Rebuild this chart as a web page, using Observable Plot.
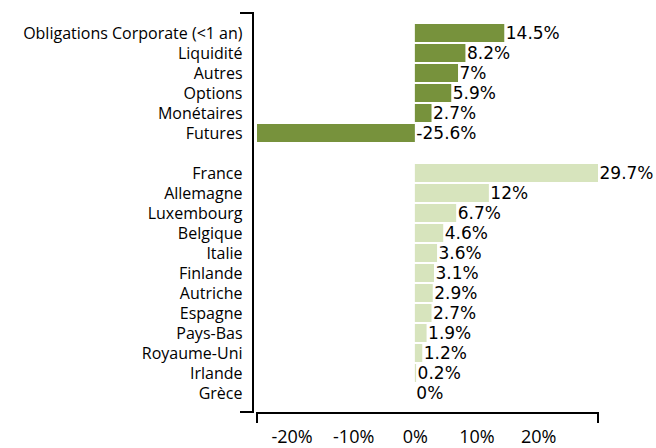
<!DOCTYPE html>
<html>
<head>
<meta charset="utf-8">
<script src="https://cdn.jsdelivr.net/npm/d3@7"></script>
<script src="https://cdn.jsdelivr.net/npm/@observablehq/plot@0.6"></script>
<style>
  html, body { margin: 0; padding: 0; background: #fff; }
  #chart { width: 656px; height: 448px; }
</style>
</head>
<body>
<div id="chart"></div>
<script>
const typeCategories = ["Obligations Corporate (<1 an)", "Liquidité", "Autres", "Options", "Monétaires", "Futures"];
const typeValues = [14.5, 8.2, 7, 5.9, 2.7, -25.6];
const countryCategories = ["France", "Allemagne", "Luxembourg", "Belgique", "Italie", "Finlande", "Autriche", "Espagne", "Pays-Bas", "Royaume-Uni", "Irlande", "Grèce"];
const countryValues = [29.7, 12, 6.7, 4.6, 3.6, 3.1, 2.9, 2.7, 1.9, 1.2, 0.2, 0];
const xTicks = [-20, -10, 0, 10, 20];

const spacer = "\u200b";
const domain = [...typeCategories, spacer, ...countryCategories];
const data = [
  ...typeCategories.map((c, i) => ({cat: c, value: typeValues[i], group: "type"})),
  ...countryCategories.map((c, i) => ({cat: c, value: countryValues[i], group: "pays"}))
];
const xMin = d3.min(data, d => d.value);
const xMax = d3.max(data, d => d.value);

const labelFont = "'Open Sans', sans-serif";

function brackets(index, scales, values, dimensions) {
  const {width, height, marginLeft, marginRight, marginTop, marginBottom} = dimensions;
  const g = d3.create("svg:g").attr("stroke", "#000").attr("stroke-width", 2).attr("fill", "none");
  const yl = marginLeft - 4;
  const top = marginTop, bot = height - marginBottom;
  g.append("path").attr("d", `M${yl - 13},${top}H${yl}V${bot}H${yl - 13}`);
  const x0 = marginLeft, x1 = width - marginRight, yb = bot + 1;
  g.append("path").attr("d", `M${x0},${yb + 10}V${yb}H${x1}V${yb + 10}`);
  return g.node();
}

const plot = Plot.plot({
  width: 656,
  height: 448,
  marginLeft: 257,
  marginRight: 58,
  marginTop: 13,
  marginBottom: 36,
  style: {fontFamily: labelFont, fontSize: "16px", color: "#000", overflow: "visible"},
  x: {domain: [xMin, xMax], label: null},
  y: {domain, paddingInner: 0.1, paddingOuter: 0.525, label: null},
  color: {domain: ["type", "pays"], range: ["#77923C", "#D7E4BD"]},
  marks: [
    Plot.axisY({tickSize: 0, tickPadding: 15, fontSize: 16, fontFamily: labelFont, label: null, tickFormat: d => d === spacer ? "" : d}),
    Plot.axisX({ticks: xTicks, tickSize: 0, tickPadding: 18, fontSize: 18, fontFamily: labelFont, label: null, tickFormat: d => d + "%"}),
    Plot.barX(data, {x: "value", y: "cat", fill: "group"}),
    Plot.text(data, {
      x: d => Math.max(d.value, 0), y: "cat", text: d => d.value + "%",
      textAnchor: "start", dx: 1, fontSize: 17, fontFamily: "'DejaVu Sans', sans-serif", fill: "#000"
    }),
    brackets
  ]
});
document.getElementById("chart").appendChild(plot);
</script>
</body>
</html>
